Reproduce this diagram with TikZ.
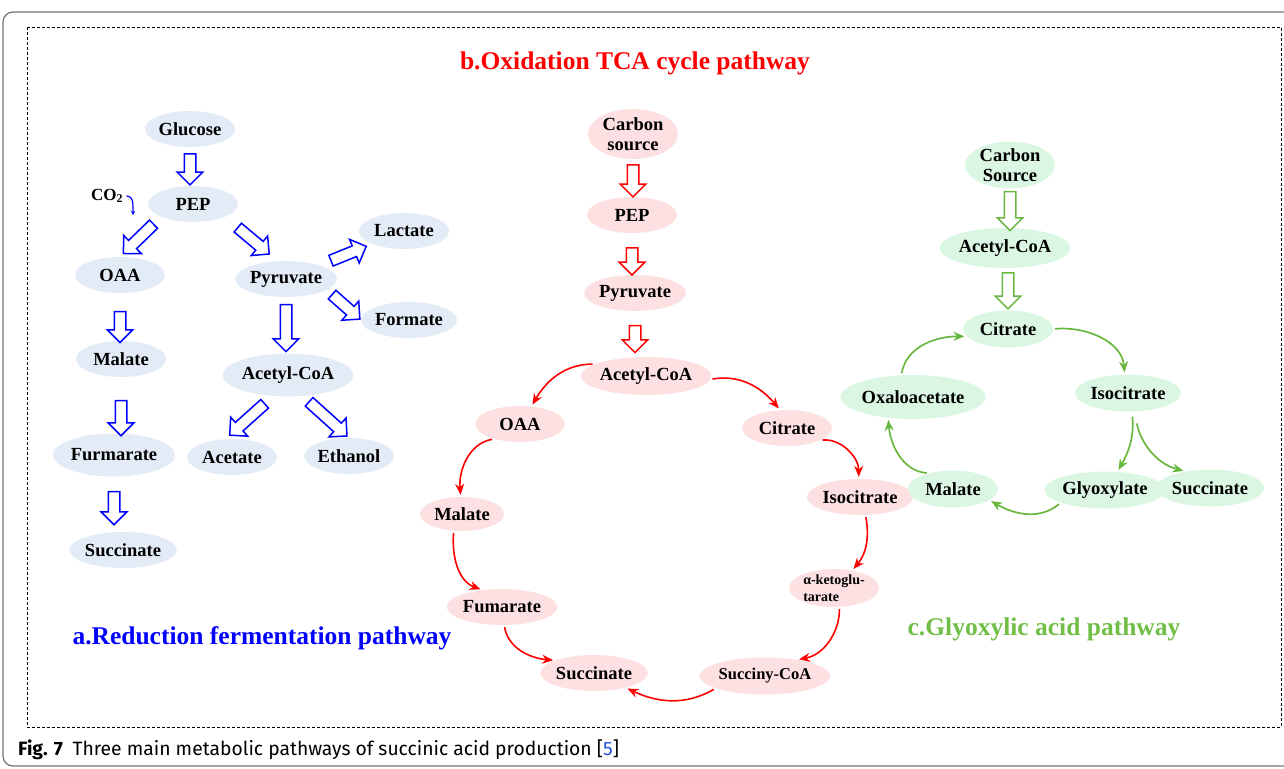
\documentclass[tikz,border=0pt]{standalone}
\usepackage{fontspec}
\setmainfont{Liberation Serif}
\newfontfamily\capfont{Fira Sans}
\usepackage{xcolor}
\usepackage{tikz}
\usetikzlibrary{shapes.geometric,shapes.arrows,arrows.meta}

\definecolor{fillB}{RGB}{227,236,246}
\definecolor{fillR}{RGB}{253,224,225}
\definecolor{fillG}{RGB}{220,246,228}
\definecolor{lineG}{RGB}{106,183,64}
\definecolor{titleG}{RGB}{112,190,70}
\definecolor{linkB}{RGB}{30,80,220}

\begin{document}
\begin{tikzpicture}[x=1pt, y=1pt,
  ell/.style={ellipse, inner sep=0pt, minimum width=90pt, minimum height=36pt, align=center,
    font=\bfseries\fontsize{18.5}{21}\selectfont},
  bnode/.style={ell, fill=fillB},
  rnode/.style={ell, fill=fillR},
  gnode/.style={ell, fill=fillG},
  harrow/.style={single arrow, draw=#1, fill=white, line width=1.5pt, inner xsep=0pt, inner ysep=5pt,
    text height=0pt, text depth=0pt, single arrow head extend=7pt, single arrow head indent=0pt,
    single arrow tip angle=90, sloped, allow upside down, anchor=center},
  hollowB/.style={harrow=blue},
  hollowR/.style={harrow=red},
  hollowG/.style={harrow=lineG},
  arcR/.style={draw=red, line width=1.6pt, -{Stealth[length=11pt, width=9pt]}, shorten <=2pt, shorten >=2pt},
  arcG/.style={draw=lineG, line width=1.7pt, -{Stealth[length=11pt, width=9pt]}, shorten <=2pt, shorten >=2pt},
  title/.style={font=\bfseries\fontsize{25.5}{28}\selectfont}
]
  \useasboundingbox (0,0) rectangle (1284,-768);

  % Rahmen
  \draw[gray!90!black, line width=1.2pt, rounded corners=10pt] (3,-12) rectangle (1300,-766);
  \draw[black, line width=0.8pt, dash pattern=on 3pt off 2pt] (27,-27) rectangle (1281,-727);

  % a. Reduktion
  \node[bnode] (gluc)  at (190,-129) {Glucose};
  \node[bnode] (pepA)  at (193,-204) {PEP};
  \node[font=\bfseries\fontsize{17}{20}\selectfont] (co2) at (107,-196) {CO\textsubscript{2}};
  \coordinate (co2end) at (133,-215);
  \node[bnode] (oaa)   at (120,-275) {OAA};
  \node[bnode] (pyr)   at (286,-279) {Pyruvate};
  \node[bnode] (lact)  at (404,-231) {Lactate};
  \node[bnode] (form)  at (409,-320) {Formate};
  \node[bnode] (malA)  at (121,-359) {Malate};
  \node[bnode, minimum width=107pt, minimum height=43pt] (acoaA) at (288,-375) {Acetyl-CoA};
  \node[bnode, minimum width=108pt, minimum height=43pt] (furm)  at (114,-455) {Furmarate};
  \node[bnode] (acet)  at (232,-457) {Acetate};
  \node[bnode] (eth)   at (349,-456) {Ethanol};
  \node[bnode] (succA) at (123,-550) {Succinate};

  \path (gluc.south) -- node[hollowB, minimum height=31pt] {} (gluc.south |- pepA.north);
  \path (pepA.south west) -- node[hollowB, minimum height=42pt] {} (oaa.north);
  \path (pepA.south east) -- node[hollowB, minimum height=41pt] {} (pyr.115);
  \path (pyr) -- node[hollowB, minimum height=38pt] {} (lact);
  \path (pyr.-15) -- node[hollowB, minimum height=37pt] {} (form.west);
  \path (pyr.south) -- node[hollowB, minimum height=47pt] {} (pyr.south |- acoaA.north);
  \path (acoaA.235) -- node[hollowB, minimum height=47pt] {} (acet.110);
  \path (acoaA.-55) -- node[hollowB, minimum height=51pt] {} (eth.north);
  \path (oaa.south) -- node[pos=.65, hollowB, minimum height=31pt] {} (oaa.south |- malA.north);
  \path (malA.south) -- node[pos=.68, hollowB, minimum height=35pt] {} (malA.south |- furm.north);
  \path (furm.south) -- node[pos=.52, hollowB, minimum height=33pt] {} (furm.south |- succA.north);
  \draw[blue, line width=1.2pt, -{Stealth[length=4pt, width=4pt]}] (co2.east) to[out=0, in=90] (co2end);

  % b. TCA
  \node[rnode, minimum height=50pt] (tcaCarb) at (633,-134) {Carbon\\[-1pt]source};
  \node[rnode] (tcaPep)  at (632,-215) {PEP};
  \node[rnode] (tcaPyr)  at (635,-293) {Pyruvate};
  \node[rnode, minimum width=112pt, minimum height=38pt] (tcaAcoa) at (646,-376) {Acetyl-CoA};
  \node[rnode] (tcaOaa)  at (520,-424) {OAA};
  \node[rnode] (tcaCit)  at (787,-428) {Citrate};
  \node[rnode, minimum width=84pt, minimum height=34pt] (tcaMal) at (462,-514) {Malate};
  \node[rnode] (tcaIso)  at (860,-497) {Isocitrate};
  \node[rnode, align=left, font=\bfseries\fontsize{14}{17}\selectfont] (tcaKeto) at (834,-588) {α-ketoglu-\\tarate};
  \node[rnode] (tcaFum)  at (502,-607) {Fumarate};
  \node[rnode] (tcaSucc) at (594,-673) {Succinate};
  \node[rnode, minimum width=117pt, minimum height=37pt, font=\bfseries\fontsize{16.5}{20}\selectfont] (tcaScoa) at (765,-676) {Succiny-CoA};

  \path (tcaCarb.south) -- node[hollowR, minimum height=32pt] {} (tcaCarb.south |- tcaPep.north);
  \path (tcaPep.south) -- node[pos=.61, hollowR, minimum height=27pt] {} (tcaPep.south |- tcaPyr.north);
  \path (tcaPyr.south) -- node[pos=.55, hollowR, minimum height=27pt] {} (tcaPyr.south |- tcaAcoa.north);

  \draw[arcR] (tcaAcoa.167) to[out=180, in=60] (tcaOaa.57);
  \draw[arcR] (tcaAcoa.-3) to[out=10, in=130] (tcaCit.111);
  \draw[arcR] (tcaOaa.210) to[out=190, in=95] (tcaMal.94);
  \draw[arcR] (tcaMal.244) to[out=-95, in=160] (tcaFum.139);
  \draw[arcR] (tcaFum.277) to[out=-80, in=175] (tcaSucc.162);
  \draw[arcR] (tcaScoa.194) to[out=-150, in=-25] (tcaSucc.335);
  \draw[arcR] (tcaCit.340) to[out=5, in=90] (tcaIso.94);
  \draw[arcR] (tcaIso.287) to[out=-80, in=50] (tcaKeto.44);
  \draw[arcR] (tcaKeto.286) to[out=-90, in=10] (tcaScoa.27);

  % c. Glyoxylat
  \node[gnode, minimum height=46pt] (gCarb) at (1010,-165) {Carbon\\[-1pt]Source};
  \node[gnode, minimum width=100pt, minimum height=40pt] (gAcoa) at (1005,-248) {Acetyl-CoA};
  \node[gnode, minimum height=37pt] (gCit)  at (1008,-329) {Citrate};
  \node[gnode, minimum width=109pt, minimum height=44pt] (gOxa) at (913,-397) {Oxaloacetate};
  \node[gnode, minimum height=37pt] (gIso)  at (1128,-393) {Isocitrate};
  \node[gnode, minimum height=37pt] (gMal)  at (953,-489) {Malate};
  \node[gnode, minimum height=37pt] (gGly)  at (1105,-490) {Glyoxylate};
  \node[gnode, minimum height=37pt] (gSucc) at (1210,-488) {Succinate};

  \path (gCarb.south) -- node[hollowG, minimum height=39pt] {} (gCarb.south |- gAcoa.north);
  \path (gCit.north |- gAcoa.south) -- node[pos=.47, hollowG, minimum height=36pt] {} (gCit.north);

  \draw[arcG] (gCit.0) to[out=5, in=95] (gIso.100);
  \draw[arcG] (gOxa.118) to[out=80, in=180] (gCit.190);
  \draw[arcG] (gMal.147) to[out=175, in=-85] (gOxa.220);
  \draw[arcG] (gGly.196) to[out=-140, in=-30] (gMal.343);
  \draw[arcG, shorten <=5pt] (gIso.282) to[out=-85, in=60] (gGly.56);
  \draw[arcG, shorten <=12pt] (gIso.290) to[out=-80, in=165] (gSucc.146);

  % Titel
  \node[title, red] (titleB) at (635,-63) {b.Oxidation TCA cycle pathway};
  \node[title, blue] (titleA) at (262,-638) {a.Reduction fermentation pathway};
  \node[title, titleG] (titleC) at (1044,-629) {c.Glyoxylic acid pathway};

  % Bildunterschrift
  \node[anchor=base west, inner sep=0pt, font=\capfont\fontsize{19.3}{22}\selectfont] (cap) at (18,-755)
    {\textbf{Fig. 7}\enspace Three main metabolic pathways of succinic acid production [{\color{linkB}5}]};
\end{tikzpicture}
\end{document}
